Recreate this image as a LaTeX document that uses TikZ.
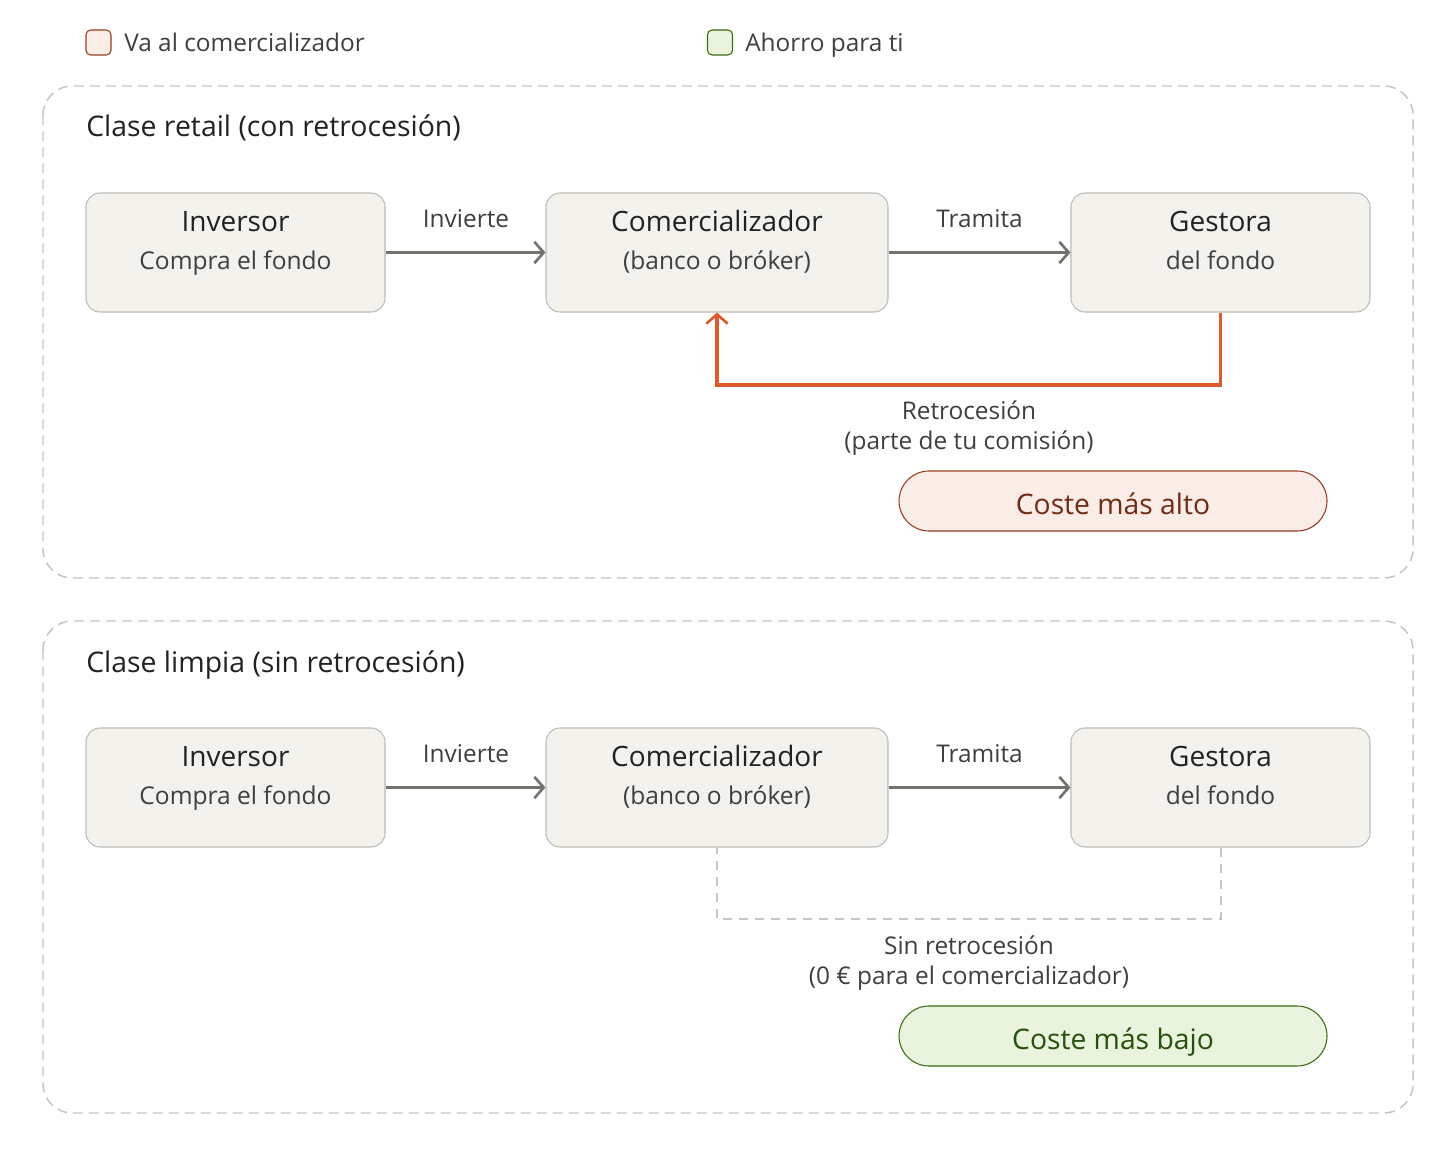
\documentclass[tikz,border=0pt]{standalone}
\usepackage{fontspec}
\setmainfont{Open Sans}
\usetikzlibrary{arrows.meta}
\definecolor{boxfill}{HTML}{F3F2EC}
\definecolor{boxline}{HTML}{BDBCB5}
\definecolor{arrgray}{HTML}{73726C}
\definecolor{txtdark}{HTML}{222220}
\definecolor{txtmid}{HTML}{3F3F3C}
\definecolor{retro}{HTML}{DD5A2C}
\definecolor{framec}{HTML}{C6C5BF}
\definecolor{redfill}{HTML}{FAECE7}
\definecolor{redline}{HTML}{993C1D}
\definecolor{redtxt}{HTML}{712B13}
\definecolor{grnfill}{HTML}{EAF3DE}
\definecolor{grnline}{HTML}{3B6D11}
\definecolor{grntxt}{HTML}{27500A}
\tikzset{
  flowbox/.style={draw=boxline, fill=boxfill, line width=0.8pt, rounded corners=10.5pt,
    minimum width=#1*0.75pt, minimum height=119*0.75pt, inner sep=0pt},
  headtxt/.style={text=txtdark, font=\fontsize{21}{24}\selectfont, inner sep=0pt, anchor=base},
  subtxt/.style={text=txtmid, font=\fontsize{18.4}{22.5}\selectfont, inner sep=0pt, anchor=base},
  lbltxt/.style={text=txtmid, font=\fontsize{18.3}{22.5}\selectfont, inner sep=0pt, align=center},
  titletxt/.style={text=txtdark, font=\fontsize{21.3}{24}\selectfont, inner sep=0pt, anchor=base west},
  flowarr/.style={draw=arrgray, line width=2.4pt, -{Straight Barb[length=7pt,width=16pt,line width=2pt]}},
  retroarr/.style={draw=retro, line width=2.4pt, -{Straight Barb[length=7pt,width=16pt,line width=2pt]}},
  noretro/.style={draw=framec, line width=1.5pt, dash pattern=on 7pt off 5pt},
  framebox/.style={draw=framec, line width=1.1pt, dash pattern=on 7.5pt off 4.5pt, rounded corners=22pt},
  pillred/.style={draw=redline, fill=redfill, line width=0.8pt, rounded corners=22.5pt,
    minimum width=428*0.75pt, minimum height=60*0.75pt},
  pillgrn/.style={draw=grnline, fill=grnfill, line width=0.8pt, rounded corners=22.5pt,
    minimum width=428*0.75pt, minimum height=60*0.75pt},
  pilltxt/.style={font=\fontsize{21.2}{24}\selectfont, inner sep=0pt, anchor=base},
  legsq/.style={line width=0.8pt, rounded corners=3.5pt, minimum size=25*0.75pt, inner sep=0pt},
}
\begin{document}
\begin{tikzpicture}[x=0.75pt,y=-0.75pt]
\useasboundingbox[fill=white] (0,0) rectangle (1456,1156);

% legend
\node[legsq, draw=redline, fill=redfill] (legred) at (98.5,42.5) {};
\node[lbltxt, anchor=base west] (legredt) at (124,51.5) {Va al comercializador};
\node[legsq, draw=grnline, fill=grnfill] (leggrn) at (720,42.5) {};
\node[lbltxt, anchor=base west] (leggrnt) at (745,51.5) {Ahorro para ti};

% ===== panel 1 =====
\draw[framebox] (43,86) rectangle (1413,578);
\node[titletxt] (title1) at (86,137) {Clase retail (con retrocesión)};

\node[flowbox=299] (inv1) at (235.5,252.5) {};
\node[headtxt] (inv1h) at (235.5,231) {Inversor};
\node[subtxt] (inv1s) at (235.5,269) {Compra el fondo};

\node[flowbox=342] (com1) at (717,252.5) {};
\node[headtxt] (com1h) at (717,231) {Comercializador};
\node[subtxt] (com1s) at (717,269) {(banco o bróker)};

\node[flowbox=299] (ges1) at (1220.5,252.5) {};
\node[headtxt] (ges1h) at (1220.5,231) {Gestora};
\node[subtxt] (ges1s) at (1220.5,269) {del fondo};

\draw[flowarr] (inv1.east) -- (com1.west);
\node[lbltxt, anchor=base] (inv1l) at (466,227) {Invierte};
\draw[flowarr] (com1.east) -- (ges1.west);
\node[lbltxt, anchor=base] (com1l) at (979.5,227) {Tramita};

\coordinate (r1a) at (1220.5,385);
\draw[retroarr] (ges1.south) -- (r1a) -| (com1.south);
\node[lbltxt, anchor=base] (retro1a) at (969,419) {Retrocesión};
\node[lbltxt, anchor=base] (retro1b) at (969,449) {(parte de tu comisión)};

\node[pillred] (pill1) at (1113,501) {};
\node[pilltxt, text=redtxt] (pill1t) at (1113,514) {Coste más alto};

% ===== panel 2 =====
\draw[framebox] (43,621) rectangle (1413,1113);
\node[titletxt] (title2) at (86,672) {Clase limpia (sin retrocesión)};

\node[flowbox=299] (inv2) at (235.5,787.5) {};
\node[headtxt] (inv2h) at (235.5,766) {Inversor};
\node[subtxt] (inv2s) at (235.5,804) {Compra el fondo};

\node[flowbox=342] (com2) at (717,787.5) {};
\node[headtxt] (com2h) at (717,766) {Comercializador};
\node[subtxt] (com2s) at (717,804) {(banco o bróker)};

\node[flowbox=299] (ges2) at (1220.5,787.5) {};
\node[headtxt] (ges2h) at (1220.5,766) {Gestora};
\node[subtxt] (ges2s) at (1220.5,804) {del fondo};

\draw[flowarr] (inv2.east) -- (com2.west);
\node[lbltxt, anchor=base] (inv2l) at (466,762) {Invierte};
\draw[flowarr] (com2.east) -- (ges2.west);
\node[lbltxt, anchor=base] (com2l) at (979.5,762) {Tramita};

\coordinate (r2a) at (1220.5,919);
\draw[noretro] (ges2.south) -- (r2a) -| (com2.south);
\node[lbltxt, anchor=base] (retro2a) at (969,954) {Sin retrocesión};
\node[lbltxt, anchor=base] (retro2b) at (969,984) {(0 € para el comercializador)};

\node[pillgrn] (pill2) at (1113,1036) {};
\node[pilltxt, text=grntxt] (pill2t) at (1113,1049) {Coste más bajo};
\end{tikzpicture}
\end{document}
